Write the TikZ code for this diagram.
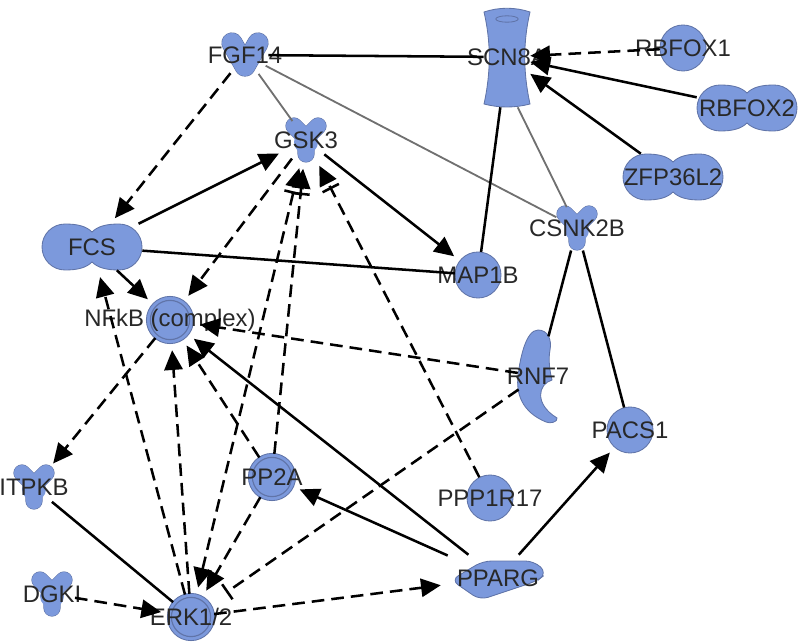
\documentclass[tikz,border=0pt]{standalone}
\usepackage{fontspec}
\setmainfont{Liberation Sans}
\usetikzlibrary{arrows.meta,shapes.geometric}
\definecolor{genefill}{RGB}{124,153,220}
\definecolor{geneedge}{RGB}{96,116,168}
\definecolor{labeltext}{RGB}{40,40,40}
\definecolor{bondgray}{RGB}{112,112,112}
\tikzset{
    >={Triangle[length=14pt,width=13pt]},
    gshape/.style={fill=genefill, draw=geneedge, line width=0.6pt},
    lobes/.style={line cap=round, line join=round},
    gcirc/.style={circle, minimum size=1.15cm, inner sep=0pt},
    gwide/.style={rectangle, minimum width=2.5cm, minimum height=1.15cm, inner sep=0pt},
    gtall/.style={rectangle, minimum width=1.15cm, minimum height=2.5cm, inner sep=0pt},
    ghook/.style={ellipse, minimum width=1cm, minimum height=2.3cm, inner sep=0pt},
    every label/.style={font=\fontsize{17}{17}\selectfont, text=labeltext, inner sep=0pt},
    lnk/.style={draw, line width=1.8pt},
    dsh/.style={lnk, dash pattern=on 9pt off 5pt},
    bond/.style={draw=bondgray, line width=1.3pt},
    act/.style={->, shorten >=5pt},
    actbar/.style={-{Bar[width=13pt,sep=3pt] >}, shorten >=4pt},
    both/.style={<-{Bar[width=13pt,sep=3pt] >}, shorten <=5pt, shorten >=4pt},
    inh/.style={-{Bar[width=13pt]}, shorten >=14pt},
    plain/.pic={\path[gshape] (0,0) circle[radius=0.575cm];},
    cplx/.pic={\path[gshape] (0,0) circle[radius=0.59cm];
        \draw[geneedge, line width=0.8pt] (0,0) circle[radius=0.49cm];},
    dumbbell/.pic={\path[gshape] (0,-15) .. controls (6,-21) and (15,-23) .. (27,-23)
        .. controls (39.7,-23) and (50,-12.7) .. (50,0) .. controls (50,12.7) and (39.7,23) .. (27,23)
        .. controls (15,23) and (6,21) .. (0,15) .. controls (-6,21) and (-15,23) .. (-27,23)
        .. controls (-39.7,23) and (-50,12.7) .. (-50,0) .. controls (-50,-12.7) and (-39.7,-23) .. (-27,-23)
        .. controls (-15,-23) and (-6,-21) .. (0,-15) -- cycle;},
    kinase/.pic={
        \draw[lobes, geneedge, line width=0.43cm] (-12,-14) -- (0,-2) -- (12,-14) (0,-2) -- (0,14);
        \draw[lobes, genefill, line width=0.4cm] (-12,-14) -- (0,-2) -- (12,-14) (0,-2) -- (0,14);
        \fill[genefill] (0,2) circle[radius=0.3cm];},
    growth/.pic={
        \draw[lobes, geneedge, line width=0.53cm] (-13,-12) -- (0,11) -- (13,-12);
        \draw[lobes, genefill, line width=0.5cm] (-13,-12) -- (0,11) -- (13,-12);},
    channel/.pic={\path[gshape] (-23,-45) .. controls (-16,-15) and (-16,15) .. (-23,47)
        .. controls (-8,51) and (8,51) .. (23,47) .. controls (16,15) and (16,-15) .. (23,-45)
        .. controls (8,-50) and (-8,-50) .. (-23,-45) -- cycle;
        \draw[geneedge, line width=0.6pt] (0,-38) ellipse[x radius=0.28cm, y radius=0.08cm];},
    crescent/.pic={\path[gshape] (0,-46) .. controls (10,-46) and (14,-36) .. (12,-26)
        .. controls (10,-16) and (12,-4) .. (14,4) .. controls (0,8) and (-4,28) .. (19,42)
        .. controls (20,46) and (12,48) .. (8,46) .. controls (-16,36) and (-22,18) .. (-20,0)
        .. controls (-18,-18) and (-12,-46) .. (0,-46) -- cycle;},
    treg/.pic={\path[gshape, rounded corners=6pt] (-47,2) -- (-15,-17) -- (36,-17) -- (49,-5)
        -- (39,3) -- (-18,22) -- cycle;}
}
\begin{document}
\begin{tikzpicture}[x=0.025cm, y=-0.025cm]
        \useasboundingbox (0,0) rectangle (800,642);
        \path (245,55) pic {growth} node[gcirc, label=center:FGF14] (fgf) {};
        \path (507,57) pic {channel} node[gtall, label=center:SCN8A] (scn) {};
        \path (683,48) pic {plain} node[gcirc, label=center:RBFOX1] (rbfox1) {};
        \path (747,108) pic {dumbbell} node[gwide, label=center:RBFOX2] (rbfox2) {};
        \path (673,177) pic {dumbbell} node[gwide, label=center:ZFP36L2] (zfp) {};
        \path (306,140) pic {kinase} node[gcirc, label=center:GSK3] (gsk) {};
        \path (577,228) pic {kinase} node[gcirc, label=center:CSNK2B] (csnk) {};
        \path (92,247) pic {dumbbell} node[gwide, label=center:FCS] (fcs) {};
        \path (478,275) pic {plain} node[gcirc, label=center:MAP1B] (map) {};
        \path (170,320) pic {cplx} node[gcirc, label=center:NFkB (complex)] (nfkb) {};
        \path (538,376) pic {crescent} node[ghook, label=center:RNF7] (rnf) {};
        \path (630,430) pic {plain} node[gcirc, label=center:PACS1] (pacs) {};
        \path (34,487) pic {kinase} node[gcirc, label=center:ITPKB] (itpkb) {};
        \path (272,477) pic {cplx} node[gcirc, label=center:PP2A] (pp2a) {};
        \path (490,498) pic {plain} node[gcirc, label=center:PPP1R17] (ppp) {};
        \path (52,594) pic {kinase} node[gcirc, label=center:DGKI] (dgki) {};
        \path (191,617) pic {cplx} node[gcirc, label=center:ERK1/2] (erk) {};
        \path (498,578) pic {treg} node[gwide, label=center:PPARG] (pparg) {};

        \draw[lnk] (scn) -- (fgf);
        \draw[dsh, act, shorten >=0pt] (rbfox1) -- (scn);
        \draw[lnk, act, shorten >=0pt] (rbfox2) -- (scn);
        \draw[lnk, act, shorten >=0pt] (zfp) -- (scn);
        \draw[bond] (fgf) -- (gsk);
        \draw[bond] (fgf) -- (csnk);
        \draw[bond] (scn.-78) -- (csnk);
        \draw[lnk] (scn) -- (map);
        \draw[dsh, act] (fgf) -- (fcs);
        \draw[lnk, act] (fcs) -- (gsk);
        \draw[lnk] (fcs) -- (map);
        \draw[lnk, act] (fcs) -- (nfkb);
        \draw[dsh, act] (gsk) -- (nfkb);
        \draw[lnk, act] (gsk) -- (map);
        \draw[dsh, act] (erk) -- (fcs);
        \draw[dsh, act] (nfkb) -- (itpkb);
        \draw[lnk] (itpkb) -- (erk);
        \draw[dsh, act] (dgki) -- (erk);
        \draw[dsh, act] (erk) -- (nfkb);
        \draw[dsh, both] (erk) -- (gsk);
        \draw[dsh, actbar] (pp2a) -- (gsk);
        \draw[dsh, act] (pp2a) -- (erk);
        \draw[dsh, act] (pp2a) -- (nfkb);
        \draw[dsh, actbar] (ppp) -- (gsk);
        \draw[dsh, act] (rnf) -- (nfkb);
        \draw[dsh, inh] (rnf) -- (erk);
        \draw[dsh, act] (erk) -- (pparg);
        \draw[lnk, act] (pparg) -- (pp2a);
        \draw[lnk, act] (pparg) -- (nfkb);
        \draw[lnk, act] (pparg) -- (pacs);
        \draw[lnk] (csnk) -- (rnf);
        \draw[lnk] (csnk) -- (pacs);
\end{tikzpicture}
\end{document}
